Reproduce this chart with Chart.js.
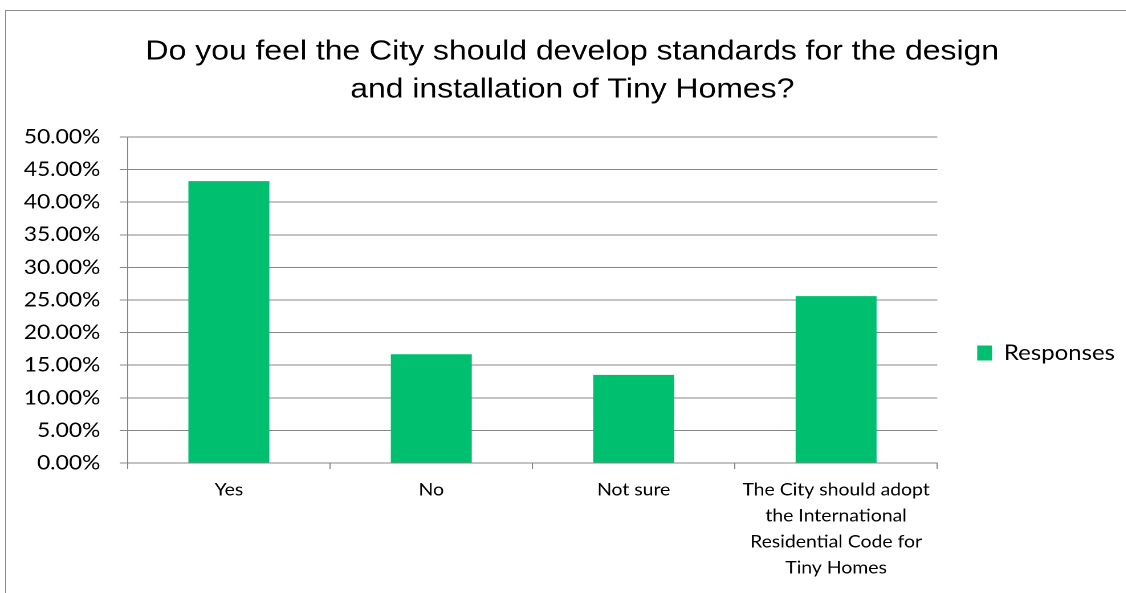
<!DOCTYPE html>
<html>
<head>
<meta charset="utf-8">
<script src="https://cdn.jsdelivr.net/npm/chart.js@4/dist/chart.umd.min.js"></script>
<style>
    html, body { margin: 0; padding: 0; background: #fff; overflow: hidden; }
    #frame { position: absolute; left: 5px; top: 10px; width: 1140px; height: 600px; border: 1px solid #8c8c8c; }
    /* the reference is a bit wider than tall, so the drawing is stretched sideways */
    #wrap { position: absolute; left: 0; top: 0; width: 988px; height: 593px; transform: scaleX(1.14); transform-origin: 0 0; }
    #chart { width: 988px; height: 593px; }
</style>
</head>
<body>
<div id="frame"></div>
<div id="wrap"><canvas id="chart" width="988" height="593"></canvas></div>
<script>
    const categories = [
        'Yes',
        'No',
        'Not sure',
        ['The City should adopt', 'the International', 'Residential Code for', 'Tiny Homes']
    ];
    const responses = [0.4324, 0.1667, 0.1351, 0.2559];
    const yTicks = [0, 0.05, 0.1, 0.15, 0.2, 0.25, 0.3, 0.35, 0.4, 0.45, 0.5];

    const labelFont = "Lato, 'Open Sans', sans-serif";

    // put the legend at the middle of the whole frame, like the original
    const legendMiddle = {
        id: 'legendMiddle',
        afterLayout(chart) {
            let legend = chart.legend;
            let shift = 353 - (legend.top + legend.bottom) / 2;
            legend.top += shift;
            legend.bottom += shift;
        }
    };

    new Chart(document.getElementById('chart'), {
        type: 'bar',
        data: {
            labels: categories,
            datasets: [
                {
                    label: 'Responses',
                    data: responses,
                    backgroundColor: '#00bf6f',
                    borderWidth: 0,
                    barPercentage: 0.4,
                    categoryPercentage: 1,
                }
            ]
        },
        options: {
            responsive: false,
            animation: false,
            devicePixelRatio: 2,
            layout: {
                padding: {left: 16, right: 0, top: 0, bottom: 0}
            },
            scales: {
                x: {
                    grid: {
                        drawOnChartArea: false,
                        drawTicks: true,
                        tickLength: 6,
                        color: '#868686',
                        offset: true,
                    },
                    border: {color: '#868686'},
                    ticks: {
                        color: '#000',
                        maxRotation: 0,
                        autoSkip: false,
                        padding: 8,
                        font: {family: labelFont, size: 17, lineHeight: 1.53},
                    },
                    afterFit: scale => { scale.height = 130; }
                },
                y: {
                    min: 0,
                    max: 0.5,
                    afterBuildTicks: scale => {
                        scale.ticks = yTicks.map(v => ({value: v}));
                    },
                    grid: {
                        color: '#868686',
                        tickLength: 7,
                    },
                    border: {color: '#868686'},
                    ticks: {
                        color: '#000',
                        padding: 17,
                        font: {family: labelFont, size: 20},
                        callback: v => (v * 100).toFixed(2) + '%'
                    },
                    afterFit: scale => { scale.width = 96; }
                }
            },
            plugins: {
                title: {
                    display: true,
                    text: ['Do you feel the City should develop standards for the design', 'and installation of Tiny Homes?'],
                    color: '#000',
                    font: {family: "'Liberation Sans', Arial, sans-serif", size: 28, weight: 'normal', lineHeight: 1.357},
                    padding: {top: 33, bottom: 28}
                },
                legend: {
                    position: 'right',
                    labels: {
                        color: '#000',
                        boxWidth: 13,
                        boxHeight: 15,
                        padding: 35,
                        font: {family: labelFont, size: 21}
                    }
                },
                tooltip: {enabled: false}
            }
        },
        plugins: [legendMiddle]
    });
</script>
</body>
</html>
